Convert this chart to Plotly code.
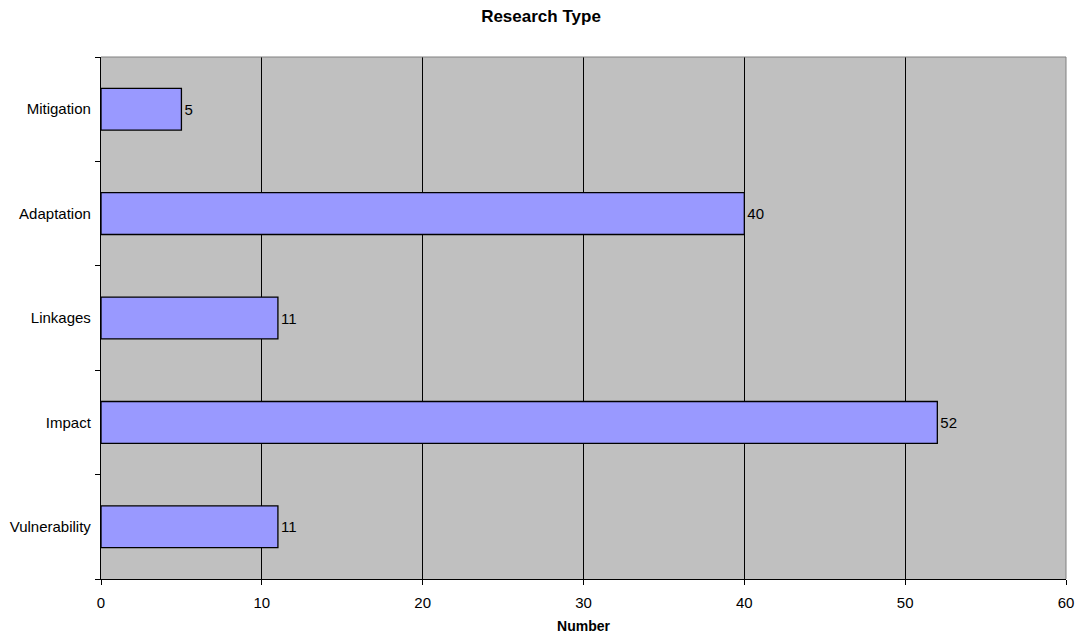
import plotly.graph_objects as go

categories = ["Vulnerability", "Impact", "Linkages", "Adaptation", "Mitigation"]
counts = [11, 52, 11, 40, 5]
x_ticks = [0, 10, 20, 30, 40, 50, 60]

font_family = "Liberation Sans, Arial, sans-serif"

fig = go.Figure(
    go.Bar(
        x=counts,
        y=categories,
        orientation="h",
        marker=dict(color="#9999FF", line=dict(color="#000000", width=1.3)),
        text=[str(v) for v in counts],
        textposition="outside",
        textfont=dict(family=font_family, size=15, color="#000000"),
        cliponaxis=False,
        hoverinfo="skip",
    )
)

fig.update_layout(
    width=1082,
    height=634,
    margin=dict(l=101, r=16, t=57, b=55, autoexpand=False),
    paper_bgcolor="#FFFFFF",
    plot_bgcolor="#C0C0C0",
    bargap=0.6,
    showlegend=False,
    title=dict(
        text="<b>Research Type</b>",
        x=0.5,
        xanchor="center",
        y=0.975,
        yanchor="middle",
        font=dict(family=font_family, size=17, color="#000000"),
    ),
    font=dict(family=font_family, size=15, color="#000000"),
)

fig.update_xaxes(
    range=[0, 60],
    tickvals=x_ticks,
    ticktext=[str(t) for t in x_ticks],
    automargin=False,
    showgrid=True,
    gridcolor="#000000",
    gridwidth=1,
    zeroline=False,
    showline=True,
    linecolor="#000000",
    linewidth=1.3,
    ticks="outside",
    ticklen=5,
    tickcolor="#000000",
    ticklabelstandoff=5,
    title=dict(text="<b>Number</b>", font=dict(size=14), standoff=11),
    tickfont=dict(size=15),
)

fig.update_yaxes(
    categoryorder="array",
    categoryarray=categories,
    automargin=False,
    showgrid=False,
    zeroline=False,
    showline=True,
    linecolor="#000000",
    linewidth=1.3,
    ticks="outside",
    tickson="boundaries",
    ticklen=5,
    tickcolor="#000000",
    ticklabelstandoff=6,
    tickfont=dict(size=15),
)

# gray frame along the top and right edges of the plot area
fig.add_shape(type="line", xref="paper", yref="paper", x0=0, x1=1, y0=1, y1=1,
              line=dict(color="#808080", width=1))
fig.add_shape(type="line", xref="paper", yref="paper", x0=1, x1=1, y0=0, y1=1,
              line=dict(color="#808080", width=1))

fig.write_html("out.html")
